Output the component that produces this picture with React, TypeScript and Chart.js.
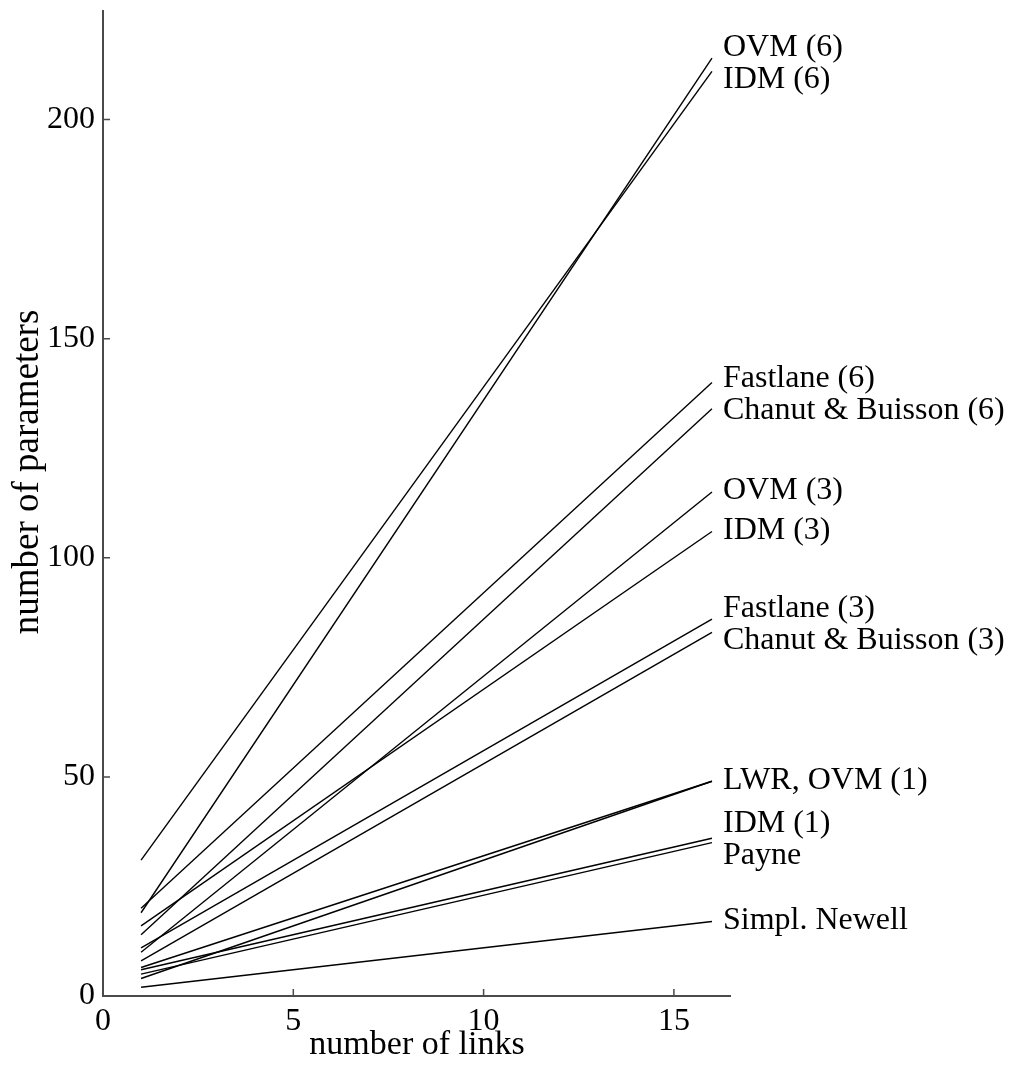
import React, { useEffect, useRef } from "react";
import { Chart, registerables } from "chart.js";

Chart.register(...registerables);

// ---- data ----
const seriesNames = [
  "OVM (6)",
  "IDM (6)",
  "Fastlane (6)",
  "Chanut & Buisson (6)",
  "OVM (3)",
  "IDM (3)",
  "Fastlane (3)",
  "Chanut & Buisson (3)",
  "LWR",
  "OVM (1)",
  "IDM (1)",
  "Payne",
  "Simpl. Newell",
];
// label shown at the end of each line (empty = shares the label of another line)
const endLabels = [
  "OVM (6)",
  "IDM (6)",
  "Fastlane (6)",
  "Chanut & Buisson (6)",
  "OVM (3)",
  "IDM (3)",
  "Fastlane (3)",
  "Chanut & Buisson (3)",
  "LWR, OVM (1)",
  "",
  "IDM (1)",
  "Payne",
  "Simpl. Newell",
];
const linkCounts = [1, 16];
const valuesAtFirst = [19, 31, 20, 14, 10, 16, 11, 8, 6.5, 4, 6, 5, 2];
const valuesAtLast = [214, 211, 140, 134, 115, 106, 86, 83, 49, 49, 36, 35, 17];
const xTicks = [0, 5, 10, 15];
const yTicks = [0, 50, 100, 150, 200];
const xRange = [0, 16.5];
const yRange = [0, 225];
const xTitle = "number of links";
const yTitle = "number of parameters";

const FONT = "'Liberation Serif', 'Times New Roman', Times, serif";

const axesPlugin = {
  id: "customAxes",
  afterDraw(chart: any) {
    const ctx = chart.ctx;
    const xs = chart.scales.x;
    const ys = chart.scales.y;
    const left = xs.getPixelForValue(xRange[0]);
    const right = xs.getPixelForValue(xRange[1]);
    const bottom = ys.getPixelForValue(yRange[0]);
    const top = ys.getPixelForValue(yRange[1]);
    ctx.save();
    ctx.strokeStyle = "#4a4a4a";
    ctx.lineWidth = 2;
    ctx.beginPath();
    ctx.moveTo(left, top);
    ctx.lineTo(left, bottom);
    ctx.lineTo(right, bottom);
    ctx.stroke();
    ctx.lineWidth = 1.5;
    ctx.beginPath();
    xTicks.forEach((t) => {
      if (t === xRange[0]) return;
      const px = xs.getPixelForValue(t);
      ctx.moveTo(px, bottom);
      ctx.lineTo(px, bottom - 7);
    });
    yTicks.forEach((t) => {
      if (t === yRange[0]) return;
      const py = ys.getPixelForValue(t);
      ctx.moveTo(left, py);
      ctx.lineTo(left + 7, py);
    });
    ctx.stroke();

    // y axis title
    ctx.fillStyle = "#000";
    ctx.font = `37px ${FONT}`;
    ctx.textAlign = "center";
    ctx.textBaseline = "middle";
    ctx.save();
    ctx.translate(28, 472);
    ctx.rotate(-Math.PI / 2);
    ctx.fillText(yTitle, 0, 0);
    ctx.restore();

    // end labels
    const items: { text: string; x: number; y: number }[] = [];
    chart.data.datasets.forEach((ds: any, i: number) => {
      const txt = endLabels[i];
      if (!txt) return;
      const meta = chart.getDatasetMeta(i);
      const pt = meta.data[meta.data.length - 1];
      items.push({ text: txt, x: pt.x + 11, y: pt.y });
    });
    items.sort((a, b) => a.y - b.y);
    const gap = 32;
    for (let iter = 0; iter < 60; iter++) {
      for (let k = 1; k < items.length; k++) {
        const d = items[k].y - items[k - 1].y;
        if (d < gap) {
          const o = (gap - d) / 2;
          items[k - 1].y -= o;
          items[k].y += o;
        }
      }
    }
    ctx.font = `32px ${FONT}`;
    ctx.textAlign = "left";
    ctx.textBaseline = "middle";
    items.forEach((it) => ctx.fillText(it.text, it.x, it.y - 1));
    ctx.restore();
  },
};

export default function App() {
  const ref = useRef<HTMLCanvasElement | null>(null);
  useEffect(() => {
    document.body.style.margin = "0";
    const canvas = ref.current!;
    const chart = new Chart(canvas, {
      type: "line",
      data: {
        datasets: seriesNames.map((name, i) => ({
          label: name,
          data: linkCounts.map((n, j) => ({
            x: n,
            y: j === 0 ? valuesAtFirst[i] : valuesAtLast[i],
          })),
          borderColor: "#000",
          borderWidth: 1.4,
          pointRadius: 0,
          fill: false,
          tension: 0,
        })),
      },
      options: {
        animation: false,
        responsive: false,
        maintainAspectRatio: false,
        layout: { padding: { top: 10, right: 281, bottom: 0, left: 0 } },
        plugins: {
          legend: { display: false },
          tooltip: { enabled: false },
        },
        scales: {
          x: {
            type: "linear",
            min: xRange[0],
            max: xRange[1],
            grid: { display: false, drawTicks: false },
            border: { display: false },
            afterFit: (s: any) => {
              s.height = 77;
              s.paddingLeft = 0;
              s.paddingRight = 0;
            },
            afterBuildTicks: (s: any) => {
              s.ticks = xTicks.map((v) => ({ value: v }));
            },
            ticks: {
              color: "#000",
              padding: 6,
              font: { family: FONT, size: 32 },
              maxRotation: 0,
            },
            title: {
              display: true,
              text: xTitle,
              color: "#000",
              font: { family: FONT, size: 34 },
              padding: { top: 0, bottom: 8 },
            },
          },
          y: {
            type: "linear",
            min: yRange[0],
            max: yRange[1],
            grid: { display: false, drawTicks: false },
            border: { display: false },
            afterFit: (s: any) => {
              s.width = 103;
              s.paddingTop = 0;
              s.paddingBottom = 0;
            },
            afterBuildTicks: (s: any) => {
              s.ticks = yTicks.map((v) => ({ value: v }));
            },
            ticks: {
              color: "#000",
              padding: 8,
              font: { family: FONT, size: 32 },
            },
            title: { display: false },
          },
        },
      },
      plugins: [axesPlugin],
    });
    return () => chart.destroy();
  }, []);
  return (
    <div style={{ position: "fixed", left: 0, top: 0, width: 1012, height: 1073 }}>
      <canvas ref={ref} width={1012} height={1073} style={{ width: 1012, height: 1073 }} />
    </div>
  );
}
